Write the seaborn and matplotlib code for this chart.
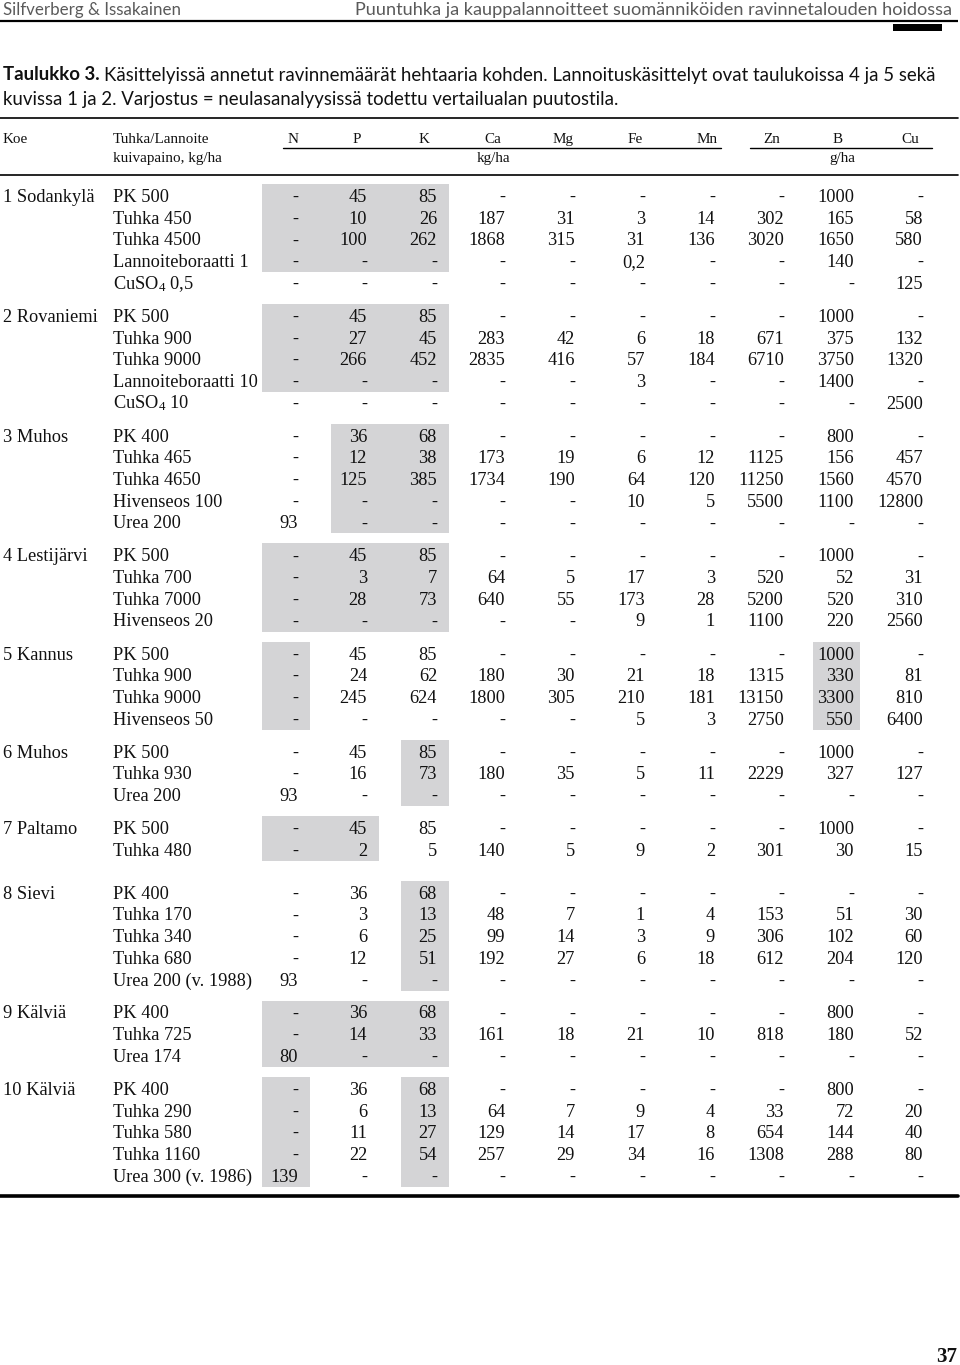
import matplotlib
matplotlib.use("Agg")
import matplotlib.pyplot as plt
import seaborn as sns
from matplotlib.patches import Rectangle

sns.set_theme(style="white")
plt.rcParams["mathtext.fontset"] = "custom"
plt.rcParams["mathtext.rm"] = "Liberation Serif"
plt.rcParams["mathtext.it"] = "Liberation Serif:italic"

# ---------------- data ----------------
columns = ["N", "P", "K", "Ca", "Mg", "Fe", "Mn", "Zn", "B", "Cu"]
unit_kg = "kg/ha"
unit_g = "g/ha"

sites = ["1 Sodankylä", "2 Rovaniemi", "3 Muhos", "4 Lestijärvi", "5 Kannus",
         "6 Muhos", "7 Paltamo", "8 Sievi", "9 Kälviä", "10 Kälviä"]

treat_1 = ["PK 500", "Tuhka 450", "Tuhka 4500", "Lannoiteboraatti 1", r"CuSO$_4$ 0,5"]
treat_2 = ["PK 500", "Tuhka 900", "Tuhka 9000", "Lannoiteboraatti 10", r"CuSO$_4$ 10"]
treat_3 = ["PK 400", "Tuhka 465", "Tuhka 4650", "Hivenseos 100", "Urea 200"]
treat_4 = ["PK 500", "Tuhka 700", "Tuhka 7000", "Hivenseos 20"]
treat_5 = ["PK 500", "Tuhka 900", "Tuhka 9000", "Hivenseos 50"]
treat_6 = ["PK 500", "Tuhka 930", "Urea 200"]
treat_7 = ["PK 500", "Tuhka 480"]
treat_8 = ["PK 400", "Tuhka 170", "Tuhka 340", "Tuhka 680", "Urea 200 (v. 1988)"]
treat_9 = ["PK 400", "Tuhka 725", "Urea 174"]
treat_10 = ["PK 400", "Tuhka 290", "Tuhka 580", "Tuhka 1160", "Urea 300 (v. 1986)"]

vals_1 = [["-", "45", "85", "-", "-", "-", "-", "-", "1000", "-"],
          ["-", "10", "26", "187", "31", "3", "14", "302", "165", "58"],
          ["-", "100", "262", "1868", "315", "31", "136", "3020", "1650", "580"],
          ["-", "-", "-", "-", "-", "0,2", "-", "-", "140", "-"],
          ["-", "-", "-", "-", "-", "-", "-", "-", "-", "125"]]
vals_2 = [["-", "45", "85", "-", "-", "-", "-", "-", "1000", "-"],
          ["-", "27", "45", "283", "42", "6", "18", "671", "375", "132"],
          ["-", "266", "452", "2835", "416", "57", "184", "6710", "3750", "1320"],
          ["-", "-", "-", "-", "-", "3", "-", "-", "1400", "-"],
          ["-", "-", "-", "-", "-", "-", "-", "-", "-", "2500"]]
vals_3 = [["-", "36", "68", "-", "-", "-", "-", "-", "800", "-"],
          ["-", "12", "38", "173", "19", "6", "12", "1125", "156", "457"],
          ["-", "125", "385", "1734", "190", "64", "120", "11250", "1560", "4570"],
          ["-", "-", "-", "-", "-", "10", "5", "5500", "1100", "12800"],
          ["93", "-", "-", "-", "-", "-", "-", "-", "-", "-"]]
vals_4 = [["-", "45", "85", "-", "-", "-", "-", "-", "1000", "-"],
          ["-", "3", "7", "64", "5", "17", "3", "520", "52", "31"],
          ["-", "28", "73", "640", "55", "173", "28", "5200", "520", "310"],
          ["-", "-", "-", "-", "-", "9", "1", "1100", "220", "2560"]]
vals_5 = [["-", "45", "85", "-", "-", "-", "-", "-", "1000", "-"],
          ["-", "24", "62", "180", "30", "21", "18", "1315", "330", "81"],
          ["-", "245", "624", "1800", "305", "210", "181", "13150", "3300", "810"],
          ["-", "-", "-", "-", "-", "5", "3", "2750", "550", "6400"]]
vals_6 = [["-", "45", "85", "-", "-", "-", "-", "-", "1000", "-"],
          ["-", "16", "73", "180", "35", "5", "11", "2229", "327", "127"],
          ["93", "-", "-", "-", "-", "-", "-", "-", "-", "-"]]
vals_7 = [["-", "45", "85", "-", "-", "-", "-", "-", "1000", "-"],
          ["-", "2", "5", "140", "5", "9", "2", "301", "30", "15"]]
vals_8 = [["-", "36", "68", "-", "-", "-", "-", "-", "-", "-"],
          ["-", "3", "13", "48", "7", "1", "4", "153", "51", "30"],
          ["-", "6", "25", "99", "14", "3", "9", "306", "102", "60"],
          ["-", "12", "51", "192", "27", "6", "18", "612", "204", "120"],
          ["93", "-", "-", "-", "-", "-", "-", "-", "-", "-"]]
vals_9 = [["-", "36", "68", "-", "-", "-", "-", "-", "800", "-"],
          ["-", "14", "33", "161", "18", "21", "10", "818", "180", "52"],
          ["80", "-", "-", "-", "-", "-", "-", "-", "-", "-"]]
vals_10 = [["-", "36", "68", "-", "-", "-", "-", "-", "800", "-"],
           ["-", "6", "13", "64", "7", "9", "4", "33", "72", "20"],
           ["-", "11", "27", "129", "14", "17", "8", "654", "144", "40"],
           ["-", "22", "54", "257", "29", "34", "16", "1308", "288", "80"],
           ["139", "-", "-", "-", "-", "-", "-", "-", "-", "-"]]

treatments = [treat_1, treat_2, treat_3, treat_4, treat_5, treat_6, treat_7, treat_8, treat_9, treat_10]
values = [vals_1, vals_2, vals_3, vals_4, vals_5, vals_6, vals_7, vals_8, vals_9, vals_10]

# shading (deficient nutrient in reference stand): rows shaded, nutrients shaded
shade_rows = [4, 4, 5, 4, 4, 3, 2, 5, 3, 5]
shade_cols = [["N", "P", "K"], ["N", "P", "K"], ["P", "K"], ["N", "P", "K"], ["N", "B"],
              ["K"], ["N", "P"], ["K"], ["N", "P", "K"], ["N", "K"]]

# ---------------- layout ----------------
W, H = 960, 1365
fig = plt.figure(figsize=(W / 100, H / 100), dpi=100)
ax = fig.add_axes([0, 0, 1, 1])
ax.set_xlim(0, W)
ax.set_ylim(H, 0)
ax.axis("off")

col_right = [298, 367, 437, 505, 575, 645, 715, 784, 854, 923]
head_center = [293, 357, 424, 493, 563, 635, 707, 772, 838, 910]
x_site, x_treat = 3, 113
serif = "Liberation Serif"
sans = "Lato"
body_size = 13.2
shade_color = "#d4d4d6"
ink = "#111111"

# page header
ax.text(3, 10, "Silfverberg & Issakainen", fontsize=12.2, family=sans, color="#5a5a5a",
        va="center", ha="left")
ax.text(952, 10, "Puuntuhka ja kauppalannoitteet suomänniköiden ravinnetalouden hoidossa",
        fontsize=13.1, family=sans, color="#5a5a5a", va="center", ha="right")
ax.plot([0, 958], [21, 21], color="black", lw=1.6, solid_capstyle="butt")
ax.add_patch(Rectangle((893, 24), 49, 7, color="black", lw=0))

# caption
fig.canvas.draw()
renderer = fig.canvas.get_renderer()
cap_size = 13.4
t_bold = ax.text(3, 75, "Taulukko 3.", fontsize=cap_size, family=sans, weight="bold",
                 color=ink, va="center", ha="left")
bb = t_bold.get_window_extent(renderer)
x_after = ax.transData.inverted().transform((bb.x1, bb.y0))[0]
ax.text(x_after + 4, 75,
        "Käsittelyissä annetut ravinnemäärät hehtaaria kohden. Lannoituskäsittelyt ovat taulukoissa 4 ja 5 sekä",
        fontsize=cap_size, family=sans, color=ink, va="center", ha="left")
ax.text(3, 100, "kuvissa 1 ja 2. Varjostus = neulasanalyysissä todettu vertailualan puutostila.",
        fontsize=cap_size, family=sans, color=ink, va="center", ha="left")

# table header
ax.plot([0, 958], [118, 118], color="black", lw=1.2)
hb = 143
ax.text(3, hb, "Koe", fontsize=10.9, family=serif, va="baseline", ha="left", color=ink)
ax.text(x_treat, hb, "Tuhka/Lannoite", fontsize=10.9, family=serif, va="baseline", ha="left", color=ink)
ax.text(x_treat, hb + 19, "kuivapaino, kg/ha", fontsize=10.9, family=serif, va="baseline", ha="left", color=ink)
for c, xc in zip(columns, head_center):
    ax.text(xc, hb, c, fontsize=10.9, family=serif, va="baseline", ha="center", color=ink)
ax.plot([283, 721], [148, 148], color="black", lw=1.0)
ax.plot([750, 932], [148, 148], color="black", lw=1.0)
ax.text(493, hb + 19, unit_kg, fontsize=10.9, family=serif, va="baseline", ha="center", color=ink)
ax.text(842, hb + 19, unit_g, fontsize=10.9, family=serif, va="baseline", ha="center", color=ink)
ax.plot([0, 958], [175, 175], color="black", lw=1.2)

# body
pitch = 21.7
y = 196.0
for g, (site, trs, rows) in enumerate(zip(sites, treatments, values)):
    ys = [y + i * pitch for i in range(len(rows))]
    # shading runs
    idx = sorted(columns.index(c) for c in shade_cols[g])
    runs = []
    for i in idx:
        if runs and runs[-1][-1] == i - 1:
            runs[-1].append(i)
        else:
            runs.append([i])
    top = ys[0] - 12
    bot = ys[shade_rows[g] - 1] + 11
    for run in runs:
        left = col_right[run[0]] - (41 if columns[run[0]] == "B" else 36)
        right = col_right[run[-1]] + (6 if columns[run[-1]] == "B" else 12)
        ax.add_patch(Rectangle((left, top), right - left, bot - top,
                               color=shade_color, lw=0, zorder=0))
    ax.text(x_site, ys[0] + 6, site, fontsize=body_size, family=serif,
            va="baseline", ha="left", color=ink)
    for yy, tr, row in zip(ys, trs, rows):
        ax.text(x_treat, yy + 6, tr, fontsize=body_size, family=serif,
                va="baseline", ha="left", color=ink)
        for xr, v in zip(col_right, row):
            ax.text(xr, yy + 6, v, fontsize=body_size, family=serif,
                    va="baseline", ha="right", color=ink)
    y = ys[-1] + pitch + (21.3 if g == 6 else 11.3)

ax.plot([0, 958], [1196, 1196], color="black", lw=2.6)

# page number
ax.text(957, 1362, "37", fontsize=15, family=serif, weight="bold",
        va="baseline", ha="right", color=ink)

fig.savefig("out.png", dpi=100)
